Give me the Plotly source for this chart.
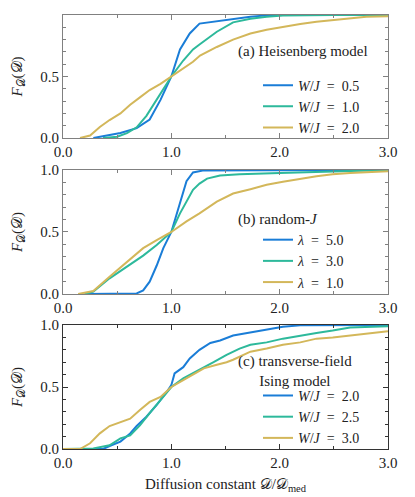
"""Cumulative distributions of the diffusion constant, three models"""

import plotly.graph_objects as go
from plotly.subplots import make_subplots

# (a) Heisenberg model
x_a_05 = [0.28, 0.40, 0.53, 0.68, 0.80, 0.90, 0.95, 1.0, 1.08, 1.17, 1.26, 1.42, 1.57, 1.73, 1.88, 2.0, 3.0]
y_a_05 = [0, 0.02, 0.04, 0.08, 0.15, 0.31, 0.41, 0.5, 0.72, 0.85, 0.93, 0.95, 0.967, 0.985, 0.997, 1.0, 1.0]
x_a_10 = [0.37, 0.50, 0.59, 0.68, 0.77, 0.865, 1.0, 1.11, 1.20, 1.26, 1.42, 1.57, 1.73, 1.88, 2.03, 2.5, 3.0]
y_a_10 = [0, 0.01, 0.04, 0.087, 0.18, 0.31, 0.5, 0.63, 0.72, 0.76, 0.864, 0.94, 0.97, 0.985, 0.995, 1.0, 1.0]
x_a_20 = [0.157, 0.25, 0.34, 0.43, 0.53, 0.62, 0.71, 0.80, 0.90, 1.0, 1.11, 1.20, 1.265, 1.42, 1.57,
          1.73, 1.88, 2.03, 2.19, 2.34, 2.49, 2.65, 2.80, 3.0]
y_a_20 = [0, 0.02, 0.09, 0.146, 0.20, 0.27, 0.33, 0.39, 0.44, 0.5, 0.57, 0.62, 0.67, 0.74, 0.80,
          0.85, 0.88, 0.905, 0.927, 0.946, 0.96, 0.97, 0.985, 0.99]

# (b) random-J
x_b_50 = [0.20, 0.68, 0.74, 0.80, 0.865, 0.926, 1.0, 1.05, 1.10, 1.14, 1.20, 1.29, 1.88, 3.0]
y_b_50 = [0, 0.005, 0.03, 0.10, 0.23, 0.37, 0.5, 0.65, 0.80, 0.91, 0.98, 0.995, 0.998, 1.0]
x_b_30 = [0.20, 0.28, 0.43, 0.59, 0.74, 0.865, 1.0, 1.08, 1.14, 1.20, 1.26, 1.33, 1.45, 1.63, 2.0, 2.5, 2.7, 3.0]
y_b_30 = [0, 0.02, 0.127, 0.22, 0.31, 0.395, 0.5, 0.65, 0.745, 0.84, 0.89, 0.93, 0.955, 0.965, 0.975, 0.985, 0.99, 1.0]
x_b_10 = [0.14, 0.28, 0.43, 0.59, 0.74, 0.865, 1.0, 1.14, 1.26, 1.42, 1.57, 1.73, 1.88, 2.03, 2.19, 2.34, 2.49, 2.65, 3.0]
y_b_10 = [0, 0.025, 0.14, 0.26, 0.37, 0.435, 0.5, 0.585, 0.65, 0.745, 0.81, 0.845, 0.88, 0.905, 0.93, 0.95, 0.965, 0.975, 0.99]

# (c) transverse-field Ising model
x_c_20 = [0.0, 0.37, 0.43, 0.53, 0.62, 0.68, 0.77, 0.865, 0.957, 1.0, 1.03, 1.11, 1.17, 1.26, 1.36,
          1.45, 1.57, 1.73, 1.88, 2.03, 2.19, 3.0]
y_c_20 = [0, 0, 0.024, 0.06, 0.125, 0.185, 0.26, 0.355, 0.46, 0.515, 0.61, 0.66, 0.73, 0.80, 0.855,
          0.875, 0.915, 0.94, 0.965, 0.985, 0.998, 1.0]
x_c_25 = [0.0, 0.28, 0.43, 0.53, 0.62, 0.71, 0.80, 0.90, 1.0, 1.11, 1.20, 1.30, 1.39, 1.51, 1.63,
          1.73, 1.88, 2.03, 2.19, 2.34, 2.49, 2.65, 3.0]
y_c_25 = [0, 0.005, 0.03, 0.086, 0.11, 0.19, 0.29, 0.395, 0.50, 0.57, 0.61, 0.66, 0.70, 0.76, 0.81,
          0.84, 0.86, 0.89, 0.915, 0.935, 0.955, 0.98, 0.99]
x_c_30 = [0.0, 0.157, 0.25, 0.34, 0.43, 0.53, 0.62, 0.71, 0.80, 0.90, 1.0, 1.11, 1.20, 1.30, 1.42,
          1.51, 1.57, 1.73, 1.88, 2.03, 2.19, 2.34, 2.49, 2.65, 2.80, 3.0]
y_c_30 = [0, 0, 0.046, 0.126, 0.185, 0.22, 0.245, 0.315, 0.38, 0.42, 0.50, 0.556, 0.60, 0.65, 0.68,
          0.70, 0.72, 0.785, 0.81, 0.84, 0.86, 0.89, 0.90, 0.915, 0.93, 0.95]

EQ = "\u2002=\u2002"
labels_a = ["<i>W</i>/<i>J</i>" + EQ + "0.5", "<i>W</i>/<i>J</i>" + EQ + "1.0", "<i>W</i>/<i>J</i>" + EQ + "2.0"]
labels_b = ["<i>λ</i>" + EQ + "5.0", "<i>λ</i>" + EQ + "3.0", "<i>λ</i>" + EQ + "1.0"]
labels_c = ["<i>W</i>/<i>J</i>" + EQ + "2.0", "<i>W</i>/<i>J</i>" + EQ + "2.5", "<i>W</i>/<i>J</i>" + EQ + "3.0"]
panel_texts = ["(a) Heisenberg model", "(b) random-<i>J</i>", "(c) transverse-field<br>Ising model"]
x_ticks = [0, 1, 2, 3]
x_ticktext = ["0.0", "1.0", "2.0", "3.0"]
y_ticks = [0, 0.5, 1.0]
y_ticktext = ["0.0", "0.5", "1.0"]

COLORS = ["#1a7dd7", "#2db99b", "#d3b75a"]
FONT = "Liberation Serif, DejaVu Serif, serif"
FS = 15
CAL_D = '<span style="font-family:DejaVu Sans">𝒟</span>'

fig = make_subplots(rows=3, cols=1)

panels = [
    ([x_a_05, x_a_10, x_a_20], [y_a_05, y_a_10, y_a_20], labels_a, "legend"),
    ([x_b_50, x_b_30, x_b_10], [y_b_50, y_b_30, y_b_10], labels_b, "legend2"),
    ([x_c_20, x_c_25, x_c_30], [y_c_20, y_c_25, y_c_30], labels_c, "legend3"),
]

for row, (xs, ys, labels, leg) in enumerate(panels, start=1):
    for k in range(3):
        fig.add_trace(go.Scatter(x=xs[k], y=ys[k], mode="lines", name=labels[k],
                                 line=dict(color=COLORS[k], width=2), legend=leg),
                      row=row, col=1)

# domaines des panneaux (fraction du papier)
domains = [[0.7166, 1.0], [0.357, 0.643], [0.0, 0.2857]]
spine_colors = ["#808080", "#808080", "#333333"]
leg_y = [0.789, 0.433, 0.074]

for i in range(3):
    fig.update_xaxes(range=[0, 3], tickvals=x_ticks, ticktext=x_ticktext, ticks="inside", ticklen=5,
                     showgrid=False, zeroline=False, showline=True, linecolor=spine_colors[i],
                     mirror="ticks", tickcolor=spine_colors[i], automargin=False,
                     minor=dict(dtick=0.5, ticks="inside", ticklen=3, tickcolor=spine_colors[i]),
                     tickfont=dict(size=FS, color="#222"), row=i + 1, col=1)
    fig.update_yaxes(range=[0, 1], tickvals=y_ticks, ticktext=y_ticktext, ticks="inside", ticklen=5,
                     showgrid=False, zeroline=False, showline=True, linecolor=spine_colors[i],
                     mirror="ticks", tickcolor=spine_colors[i], domain=domains[i], automargin=False,
                     minor=dict(dtick=0.1, ticks="inside", ticklen=3, tickcolor=spine_colors[i]),
                     tickfont=dict(size=FS, color="#222"),
                     title=dict(text="<i>F</i><sub>" + CAL_D + "</sub>(" + CAL_D + ")",
                                font=dict(size=FS, color="#222"), standoff=26),
                     row=i + 1, col=1)

fig.update_xaxes(title=dict(text="Diffusion constant " + CAL_D + "/" + CAL_D + "<sub>med</sub>",
                            font=dict(size=FS, color="#222"), standoff=8), row=3, col=1)

# textes des panneaux
ann_y = [0.70, 0.597, 0.63]
for i in range(3):
    fig.add_annotation(x=1.60, y=ann_y[i], xref="x" + ("" if i == 0 else str(i + 1)),
                       yref="y" + ("" if i == 0 else str(i + 1)), text=panel_texts[i],
                       showarrow=False, xanchor="left", yanchor="middle", align="center",
                       font=dict(size=FS, color="#222", family=FONT))

leg_common = dict(xanchor="left", x=0.60, yanchor="middle", bgcolor="rgba(0,0,0,0)",
                  font=dict(size=14, color="#222", family=FONT), itemwidth=30,
                  tracegroupgap=0)
# la page ajoute 8 px de marge : la figure est réduite d'autant
fig.update_layout(
    width=407, height=489,
    margin=dict(l=55, r=27, t=7, b=48, autoexpand=False),
    paper_bgcolor="white", plot_bgcolor="white",
    font=dict(family=FONT, color="#222"),
    legend=dict(y=leg_y[0], **leg_common),
    legend2=dict(y=leg_y[1], **leg_common),
    legend3=dict(y=leg_y[2], **leg_common),
)

fig.write_html("out.html")
